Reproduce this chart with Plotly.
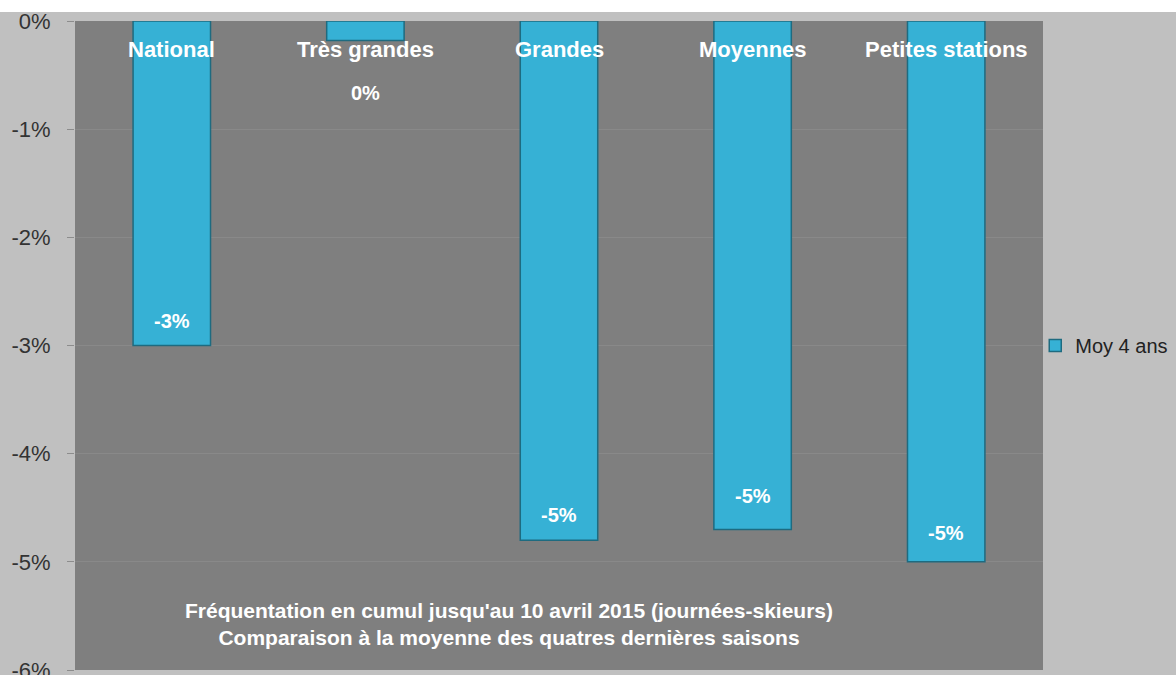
import plotly.graph_objs as go

categories = ["National", "Très grandes", "Grandes", "Moyennes", "Petites stations"]
values = [-3.0, -0.18, -4.8, -4.7, -5.0]
value_labels = ["-3%", "0%", "-5%", "-5%", "-5%"]
label_shift = [12, -66, 12, 20, 16]
tick_vals = [0, -1, -2, -3, -4, -5, -6]
tick_text = ["0%", "-1%", "-2%", "-3%", "-4%", "-5%", "-6%"]
series_name = "Moy 4 ans"
title_lines = ["Fréquentation en cumul jusqu'au 10 avril 2015 (journées-skieurs)",
               "Comparaison à la moyenne des quatres dernières saisons"]

font_main = "Liberation Sans, Arial, sans-serif"

trace0 = go.Bar(
    x=categories,
    y=values,
    name=series_name,
    width=0.4,
    marker={"color": "#36b1d5", "line": {"color": "#1e6b80", "width": 1.5}},
    showlegend=True,
    hoverinfo="x+y",
)

fig = go.Figure([trace0])

# category names sitting just under the zero line
for cat in categories:
    fig.add_annotation(x=cat, y=0, xref="x", yref="y", text=f"<b>{cat}</b>",
                       showarrow=False, yanchor="top", yshift=-14,
                       font={"family": font_main, "size": 22, "color": "white"})

# value labels near the bar ends
for cat, val, lab, sh in zip(categories, values, value_labels, label_shift):
    fig.add_annotation(x=cat, y=val, xref="x", yref="y", text=f"<b>{lab}</b>",
                       showarrow=False, yanchor="bottom", yshift=sh,
                       font={"family": font_main, "size": 20, "color": "white"})

fig.add_annotation(x=0.448, y=0.03, xref="paper", yref="paper",
                   text="<b>" + "<br>".join(title_lines) + "</b>",
                   showarrow=False, align="center",
                   font={"family": font_main, "size": 21, "color": "white"})

# white strip along the very top
fig.add_shape(type="rect", xref="paper", yref="paper", x0=-0.1, x1=1.2, y0=1.0139, y1=1.1,
              fillcolor="white", line={"width": 0}, layer="below")

fig.update_layout({
    "width": 1176,
    "height": 675,
    "margin": {"t": 21, "b": 5, "l": 75, "r": 133, "autoexpand": False},
    "paper_bgcolor": "#c0c0c0",
    "plot_bgcolor": "#7f7f7f",
    "legend": {"x": 0.992, "y": 0.5, "yanchor": "middle", "xanchor": "left",
               "bgcolor": "rgba(0,0,0,0)",
               "font": {"family": font_main, "size": 20, "color": "#222222"}},
}).update_xaxes({
    "showticklabels": False, "showgrid": False, "zeroline": False,
}).update_yaxes({
    "range": [-6, 0], "tickvals": tick_vals, "ticktext": tick_text,
    "ticks": "outside", "ticklen": 7, "tickcolor": "#8c8c8c",
    "ticklabelstandoff": 12, "ticklabeloverflow": "allow", "automargin": False,
    "showgrid": True, "gridcolor": "#898989", "gridwidth": 1, "zeroline": False,
    "tickfont": {"family": font_main, "size": 22, "color": "#333333"},
})

fig.write_html("out.html", config={"displayModeBar": False},
               post_script="document.body.style.margin='0';")
